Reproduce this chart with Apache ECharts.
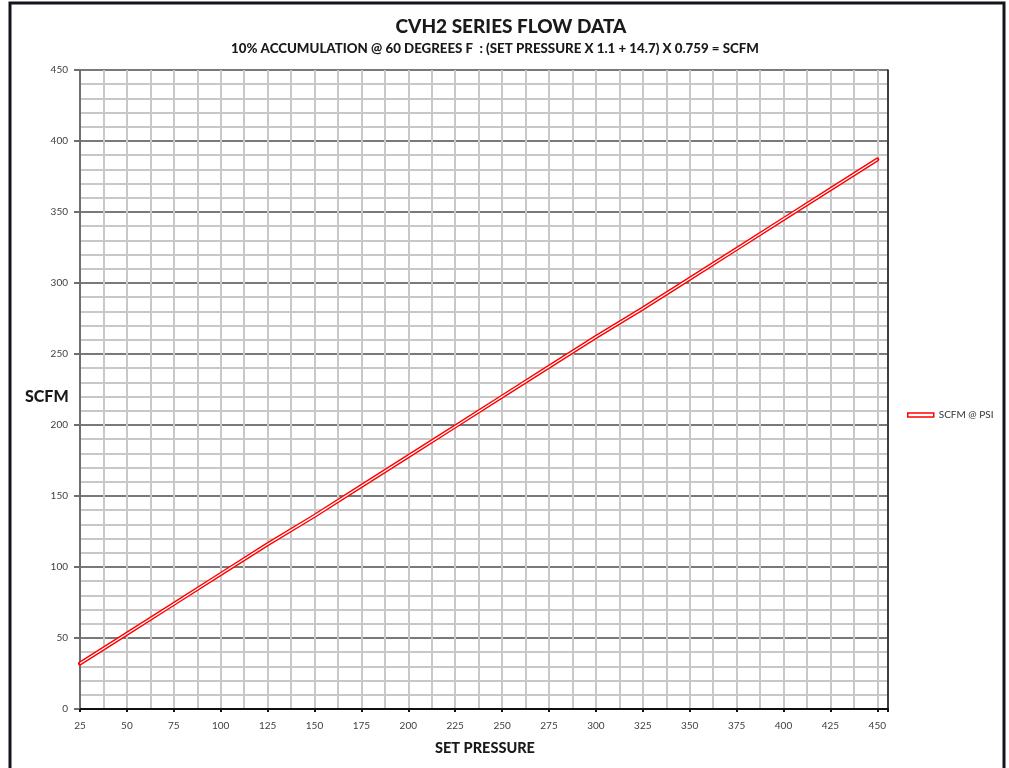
<!DOCTYPE html>
<html>
<head>
<meta charset="utf-8">
<script src="https://cdn.jsdelivr.net/npm/echarts@6/dist/echarts.min.js"></script>
<style>
html,body{margin:0;padding:0;background:#fff;}
#chart{width:1009px;height:768px;}
</style>
</head>
<body>
<div id="chart"></div>
<script>
// Data
var setPressure = [25, 50, 75, 100, 125, 150, 175, 200, 225, 250, 275, 300, 325, 350, 375, 400, 425, 450];
var scfm = [32, 53, 74, 95, 116, 136, 157, 178, 199, 220, 241, 262, 282, 303, 324, 345, 366, 387];
var seriesName = 'SCFM @ PSI';
var titleText = 'CVH2 SERIES FLOW DATA';
var subtitleText = '10% ACCUMULATION @ 60 DEGREES F  : (SET PRESSURE X 1.1 + 14.7) X 0.759 = SCFM';
var xName = 'SET PRESSURE';
var yName = 'SCFM';

var pts = setPressure.map(function (p, i) { return [p, scfm[i]]; });
var FONT = 'Lato, "Open Sans", sans-serif';

var chart = echarts.init(document.getElementById('chart'), null, {renderer: 'canvas'});
chart.setOption({
  animation: false,
  backgroundColor: '#fff',
  textStyle: {fontFamily: FONT},
  title: [
    {text: titleText, left: 506, textAlign: 'center', top: 12, textStyle: {fontSize: 19, fontWeight: 900, color: '#1a1a1a', fontFamily: FONT}},
    {text: subtitleText, left: 490, textAlign: 'center', top: 37, textStyle: {fontSize: 13.3, fontWeight: 900, color: '#1a1a1a', fontFamily: FONT}},
    {text: yName, left: 20, top: 384, textStyle: {fontSize: 16, fontWeight: 900, color: '#1a1a1a', fontFamily: FONT}},
    {text: xName, left: 480, textAlign: 'center', top: 736, textStyle: {fontSize: 14.5, fontWeight: 900, color: '#1a1a1a', fontFamily: FONT}}
  ],
  graphic: [
    {type: 'rect', shape: {x: 10, y: 3, width: 994, height: 820}, style: {fill: 'none', stroke: '#14141e', lineWidth: 3}, silent: true, z: 100}
  ],
  legend: {
    left: 902, top: 405, orient: 'vertical',
    itemWidth: 26, itemHeight: 4, itemGap: 4,
    textStyle: {fontSize: 10, color: '#333', fontFamily: FONT},
    data: [{name: seriesName, icon: 'rect', itemStyle: {color: '#fff', borderColor: '#ff0000', borderWidth: 1.5}}]
  },
  grid: {left: 80, right: 121, top: 70, bottom: 59, containLabel: false},
  xAxis: [
    {
      type: 'value', min: 25, max: 455.7, interval: 12.5,
      axisLine: {show: true, onZero: false, lineStyle: {color: '#111', width: 2}},
      axisTick: {show: false},
      axisLabel: {
        color: '#404040', fontSize: 10, margin: 12, fontFamily: FONT, showMaxLabel: false,
        formatter: function (v) { return (v % 25 === 0 && v <= 450) ? String(v) : ''; }
      },
      splitLine: {show: true, lineStyle: {color: '#c8c8c8', width: 2}}
    },
    {
      type: 'value', min: 25, max: 455.7, interval: 25, position: 'bottom',
      axisLine: {show: false},
      axisTick: {show: true, inside: false, length: 3, lineStyle: {color: '#111', width: 2}},
      axisLabel: {show: false},
      splitLine: {show: false}
    }
  ],
  yAxis: [
    {
      type: 'value', min: 0, max: 450, interval: 50,
      axisLine: {show: true, lineStyle: {color: '#6e6e6e', width: 2}},
      axisTick: {show: true, length: 6, lineStyle: {color: '#6e6e6e', width: 2}},
      axisLabel: {color: '#404040', fontSize: 10, margin: 12, fontFamily: FONT},
      splitLine: {show: true, lineStyle: {color: '#7a7a7a', width: 2}},
      minorTick: {show: false, splitNumber: 5},
      minorSplitLine: {show: true, lineStyle: {color: '#c8c8c8', width: 2}}
    },
    {
      type: 'value', min: 0, max: 450, interval: 50, position: 'right',
      axisLine: {show: true, lineStyle: {color: '#111', width: 1.5}},
      axisTick: {show: false}, axisLabel: {show: false}, splitLine: {show: false}
    }
  ],
  series: [
    {
      name: seriesName, type: 'line', xAxisIndex: 0, yAxisIndex: 0, data: pts,
      showSymbol: false, symbol: 'none',
      lineStyle: {color: '#ff0000', width: 4, cap: 'round'}, itemStyle: {color: '#ff0000'}, z: 5
    },
    {
      name: '_inner', type: 'line', xAxisIndex: 0, yAxisIndex: 0, data: pts,
      showSymbol: false, symbol: 'none',
      lineStyle: {color: '#ffffff', width: 1.2}, z: 6
    }
  ]
});
</script>
</body>
</html>
